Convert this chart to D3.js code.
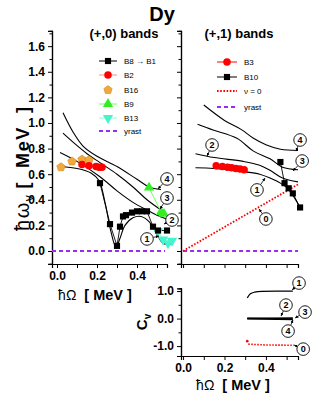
<!DOCTYPE html>
<html><head><meta charset="utf-8">
<script src="https://cdn.jsdelivr.net/npm/d3@7"></script>
<style>body{margin:0;background:#fff}svg{display:block}</style>
</head><body>
<script>
// ---------- DATA ----------
const xTickLabels = ["0.0", "0.2", "0.4"];
const yTickLabels = ["0.0","0.2","0.4","0.6","0.8","1.0","1.2","1.4","1.6"];
const cvTickLabels = ["-1.0","0.0","1.0"];

// (+,0) experimental bands
const b8b1X = [0.215,0.265,0.300,0.315,0.330,0.345,0.375,0.400,0.425,0.450,0.480,0.505,0.550];
const b8b1Y = [0.53,0.21,0.04,0.19,0.27,0.28,0.30,0.31,0.31,0.31,0.19,0.16,0.16];
const b2X = [0.125,0.160,0.195,0.210,0.225];
const b2Y = [0.675,0.665,0.660,0.655,0.655];
const b16X = [0.020,0.075,0.125,0.160];
const b16Y = [0.655,0.700,0.715,0.710];
const b9X = [0.460,0.520,0.535];
const b9Y = [0.495,0.305,0.290];
const b13X = [0.505,0.530,0.555,0.575];
const b13Y = [0.155,0.090,0.060,0.080];

// (+,0) theory curves (labels 1..4)
const thL1 = [[0.02,0.66],[0.10,0.645],[0.17,0.61],[0.21,0.55],[0.24,0.38],[0.27,0.15],[0.295,0.03],[0.315,0.10],[0.34,0.20],[0.38,0.26],[0.42,0.27],[0.46,0.23],[0.50,0.13],[0.53,0.06],[0.56,0.05],[0.58,0.06]];
const thL2 = [[0.015,0.77],[0.10,0.70],[0.215,0.58],[0.30,0.47],[0.38,0.38],[0.45,0.32],[0.50,0.28],[0.55,0.25]];
const thL3 = [[0.03,0.92],[0.08,0.85],[0.15,0.76],[0.215,0.69],[0.30,0.60],[0.38,0.50],[0.45,0.40],[0.52,0.32]];
const thL4 = [[0.03,1.08],[0.08,0.93],[0.13,0.82],[0.20,0.74],[0.30,0.66],[0.40,0.56],[0.46,0.50],[0.52,0.48]];
const yrastL = [[-0.025,0],[0.54,0]];

// (+,1) experimental bands
const b3X = [0.160,0.190,0.215,0.235,0.255,0.275,0.295];
const b3Y = [0.665,0.660,0.655,0.650,0.645,0.640,0.635];
const b10X = [0.470,0.490,0.510,0.530,0.565];
const b10Y = [0.695,0.530,0.490,0.450,0.340];

// (+,1) theory curves
const thR1 = [[0.06,0.65],[0.15,0.645],[0.29,0.62],[0.37,0.60],[0.42,0.57],[0.47,0.53],[0.51,0.48],[0.565,0.34]];
const thR2 = [[0.06,0.76],[0.15,0.73],[0.29,0.70],[0.37,0.67],[0.42,0.63],[0.48,0.57],[0.555,0.54]];
const thR3 = [[0.07,0.99],[0.145,0.945],[0.26,0.88],[0.34,0.78],[0.42,0.72],[0.48,0.655],[0.555,0.635]];
const thR4 = [[0.10,1.14],[0.20,1.02],[0.28,0.95],[0.34,0.88],[0.40,0.83],[0.47,0.795],[0.555,0.785]];
const nu0R = [[0.0,0.0],[0.555,0.52]];
const yrastR = [[0.0,0.0],[0.555,0.0]];

// C_v curves
const cv1 = [[0.31,0.75],[0.325,0.90],[0.345,0.96],[0.38,0.99],[0.45,1.0],[0.53,1.0]];
const cv2 = [[0.31,0.01],[0.53,-0.01]];
const cv3 = [[0.31,0.0],[0.53,0.02]];
const cv4 = [[0.31,-0.01],[0.53,-0.04]];
const cv0 = [[0.315,-0.93],[0.40,-0.96],[0.535,-0.97]];
const cv0Start = [[0.31,-0.82]];

// annotation labels: [text, labelX, labelY, targetX, targetY]
const annL = [["4",0.55,0.5625,0.505,0.484],["3",0.55,0.414,0.515,0.328],["2",0.575,0.242,0.535,0.21],["1",0.45,0.094,0.51,0.117]];
const annR = [["4",0.565,0.867,0.546,0.78],["3",0.575,0.703,0.531,0.625],["2",0.14,0.828,0.116,0.742],["1",0.357,0.477,0.396,0.57],["0",0.40,0.25,0.367,0.328]];
const annCv = [["1",0.56,1.29,0.527,1.04],["2",0.497,0.49,0.473,0.09],["3",0.589,0.236,0.541,0.02],["4",0.507,-0.455,0.531,-0.05],["0",0.58,-1.11,0.536,-0.96]];

const legendL = ["B8 \u2192 B1","B2","B16","B9","B13","yrast"];
const legendR = ["B3","B10","\u03bd = 0","yrast"];

// ---------- DRAW ----------
const W = 322, H = 417;
const FONT = "'Liberation Sans', Arial, sans-serif";
const svg = d3.select("body").append("svg").attr("width", W).attr("height", H)
  .style("font-family", FONT);

const xL = d3.scaleLinear().domain([-0.025, 0.55]).range([52, 167]);
const xR = d3.scaleLinear().domain([-0.01, 0.555]).range([181, 298]);
const yT = d3.scaleLinear().domain([-0.1, 1.72]).range([263.8, 30.8]);
const yC = d3.scaleLinear().domain([-1.36, 1.1]).range([356, 288.3]);

const COL = {red:"#ff0000", pink:"#ff8a8a", orange:"#f2a93b", green:"#33ee22", lgreen:"#77ff66",
             cyan:"#44f5cc", lcyan:"#88ffe0", purple:"#9a2cf0"};

svg.append("defs").append("marker").attr("id","arr").attr("viewBox","0 0 10 10")
  .attr("refX",10).attr("refY",5).attr("markerWidth",4).attr("markerHeight",4).attr("orient","auto")
  .append("path").attr("d","M0,0L10,5L0,10z").attr("fill","#000");

function axes(xs, ys, yMajor, yMinor, showY, xLab, yFmtLabels, y0) {
  const g = svg.append("g");
  const ya = d3.axisLeft(ys).tickValues(yMajor).tickSize(4).tickPadding(3)
     .tickFormat((d,i) => showY ? yFmtLabels[i] : "");
  g.append("g").attr("transform",`translate(${xs.range()[0]},0)`).call(ya);
  const yam = d3.axisLeft(ys).tickValues(yMinor).tickSize(2.5).tickFormat("");
  g.append("g").attr("transform",`translate(${xs.range()[0]},0)`).call(yam);
  const xa = d3.axisBottom(xs).tickValues([0,0.1,0.2,0.3,0.4,0.5]).tickSize(4).tickPadding(3)
     .tickFormat(d => { const i = [0,0.2,0.4].findIndex(v => Math.abs(v-d)<1e-9); return (xLab && i>=0) ? xTickLabels[i] : ""; });
  g.append("g").attr("transform",`translate(0,${y0})`).call(xa);
  g.selectAll(".domain").attr("stroke","#000").attr("stroke-width",1.2);
  g.selectAll(".tick line").attr("stroke","#000");
  g.selectAll("text").attr("font-family",FONT).attr("font-weight","bold").attr("font-size",12).attr("fill","#000");
  return g;
}
const yMaj = d3.range(0, 9).map(i => i*0.2);
const yMin = d3.range(0, 9).map(i => i*0.2+0.1).filter(v => v < 1.72);
axes(xL, yT, yMaj, yMin, true, true, yTickLabels, 264);
axes(xR, yT, yMaj, yMin, false, false, yTickLabels, 264);
axes(xR, yC, [-1,0,1], [-0.5,0.5], true, true, cvTickLabels, 356);

const lineGen = (xs, ys, curve) => d3.line().x(d => xs(d[0])).y(d => ys(d[1])).curve(curve || d3.curveLinear);
const zipXY = (a, b) => a.map((v,i) => [v, b[i]]);

function path(data, xs, ys, stroke, width, dash, curve) {
  svg.append("path").datum(data).attr("d", lineGen(xs, ys, curve)).attr("fill","none")
    .attr("stroke", stroke).attr("stroke-width", width).attr("stroke-dasharray", dash || null);
}
function pentagon(r) {
  const pts = d3.range(5).map(i => { const a = -Math.PI/2 + i*2*Math.PI/5; return [r*Math.cos(a), r*Math.sin(a)]; });
  return "M" + pts.map(p => p.join(",")).join("L") + "Z";
}
function markerPath(kind) {
  if (kind === "square") return d3.symbol(d3.symbolSquare, 38)();
  if (kind === "circle") return d3.symbol(d3.symbolCircle, 44)();
  if (kind === "pent") return pentagon(4.4);
  if (kind === "tri" || kind === "down") return d3.symbol(d3.symbolTriangle, 46)();
}
function markers(data, xs, ys, kind, fill, stroke) {
  svg.append("g").selectAll("path").data(data).enter().append("path")
    .attr("transform", d => `translate(${xs(d[0])},${ys(d[1])})` + (kind==="down" ? " rotate(180)" : ""))
    .attr("d", markerPath(kind))
    .attr("fill", fill).attr("stroke", stroke || "none").attr("stroke-width", 0.6);
}

// yrast lines & nu=0
path(yrastL, xL, yT, COL.purple, 1.8, "4,3");
path(yrastR, xR, yT, COL.purple, 1.8, "4,3");
path(nu0R, xR, yT, COL.red, 1.8, "1.6,1.6");

// theory curves
const cr = d3.curveCatmullRom.alpha(0.5);
[thL1, thL2, thL3, thL4].forEach(c => path(c, xL, yT, "#000", 1.1, null, cr));
[thR1, thR2, thR3, thR4].forEach(c => path(c, xR, yT, "#000", 1.1, null, cr));

// experimental (+,0)
const b8 = zipXY(b8b1X, b8b1Y), b2 = zipXY(b2X, b2Y), b16 = zipXY(b16X, b16Y), b9 = zipXY(b9X, b9Y), b13 = zipXY(b13X, b13Y);
path(b8, xL, yT, "#000", 0.9);
path(b2, xL, yT, COL.pink, 1);
path(b9, xL, yT, COL.lgreen, 1);
path(b13, xL, yT, COL.lcyan, 1);
markers(b16, xL, yT, "pent", COL.orange, "#d08a20");
markers(b2, xL, yT, "circle", COL.red);
markers(b9, xL, yT, "tri", COL.green);
markers(b13, xL, yT, "down", COL.cyan);
markers(b8, xL, yT, "square", "#000");

// experimental (+,1)
const b3 = zipXY(b3X, b3Y), b10 = zipXY(b10X, b10Y);
path(b3, xR, yT, COL.red, 1);
path(b10, xR, yT, "#000", 0.9);
markers(b3, xR, yT, "circle", COL.red);
markers(b10, xR, yT, "square", "#000");

// C_v curves
path(cv1, xR, yC, "#000", 1.2, null, d3.curveMonotoneX);
[cv2, cv3, cv4].forEach(c => path(c, xR, yC, "#000", 1.4));
path(cv0, xR, yC, COL.red, 1.6, "1.5,1.5");
svg.append("g").selectAll("circle").data(cv0Start).enter().append("circle")
  .attr("cx", d => xR(d[0])).attr("cy", d => yC(d[1])).attr("r", 1.3).attr("fill", COL.red);

// annotations
function annotate(list, xs, ys) {
  list.forEach(([t, lx, ly, tx, ty]) => {
    const cx = xs(lx), cy = ys(ly), px = xs(tx), py = ys(ty);
    const dx = px - cx, dy = py - cy, L = Math.hypot(dx, dy), r = 6.3;
    svg.append("line").attr("x1", cx + dx/L*r).attr("y1", cy + dy/L*r).attr("x2", px).attr("y2", py)
      .attr("stroke","#000").attr("stroke-width",0.8).attr("marker-end","url(#arr)");
    svg.append("circle").attr("cx",cx).attr("cy",cy).attr("r",r).attr("fill","#fff").attr("stroke","#000").attr("stroke-width",0.9);
    svg.append("text").attr("x",cx).attr("y",cy+3.2).attr("text-anchor","middle").attr("font-size",9)
      .attr("font-weight","bold").text(t);
  });
}
annotate(annL, xL, yT);
annotate(annR, xR, yT);
annotate(annCv, xR, yC);

// legends
function legend(items, x0, x1, tx, ys, styles) {
  items.forEach((lab, i) => {
    const st = styles[i], y = ys[i], mx = (x0 + x1) / 2;
    if (st.line) svg.append("line").attr("x1",x0).attr("x2",x1).attr("y1",y).attr("y2",y)
      .attr("stroke",st.line).attr("stroke-width",st.w||1).attr("stroke-dasharray",st.dash||null);
    if (st.m) svg.append("path").attr("transform",`translate(${mx},${y})` + (st.m==="down"?" rotate(180)":""))
      .attr("d", markerPath(st.m)).attr("fill", st.fill).attr("stroke", st.stroke||"none").attr("stroke-width",0.6);
    svg.append("text").attr("x",tx).attr("y",y+3).attr("font-size",8).text(lab);
  });
}
legend(legendL, 99, 117, 124, [61,75,90,104,118,131], [
  {line:"#000", m:"square", fill:"#000"},
  {line:COL.pink, m:"circle", fill:COL.red},
  {m:"pent", fill:COL.orange, stroke:"#d08a20"},
  {line:COL.lgreen, m:"tri", fill:COL.green},
  {line:COL.lcyan, m:"down", fill:COL.cyan},
  {line:COL.purple, w:1.8, dash:"4,3"}
]);
legend(legendR, 217, 237, 244, [62,77,91,107], [
  {line:COL.red, m:"circle", fill:COL.red},
  {line:"#000", m:"square", fill:"#000"},
  {line:COL.red, w:1.8, dash:"1.6,1.6"},
  {line:COL.purple, w:1.8, dash:"4,3"}
]);

// titles
svg.append("text").attr("x",162).attr("y",21).attr("text-anchor","middle").attr("font-size",20).attr("font-weight","bold").text("Dy");
svg.append("text").attr("x",124).attr("y",38).attr("text-anchor","middle").attr("font-size",13).attr("font-weight","bold").text("(+,0) bands");
svg.append("text").attr("x",239).attr("y",38).attr("text-anchor","middle").attr("font-size",13).attr("font-weight","bold").text("(+,1) bands");

function xTitle(cx, y) {
  const t = svg.append("text").attr("x",cx).attr("y",y).attr("text-anchor","middle");
  t.append("tspan").attr("font-size",14).text("\u0127\u03a9");
  t.append("tspan").attr("font-size",14.5).attr("font-weight","bold").attr("dx",8).text("[ MeV ]");
}
xTitle(95, 300);
xTitle(233, 390);

// y title left
const yt = svg.append("text").attr("transform","translate(29,231) rotate(-90)").attr("text-anchor","start")
  .attr("textLength",124).attr("lengthAdjust","spacing");
yt.append("tspan").attr("font-size",20).text("\u0127\u03c9");
yt.append("tspan").attr("font-size",12).attr("dy",4).text("v");
yt.append("tspan").attr("font-size",18).attr("font-weight","bold").attr("dy",-4).attr("dx",5).text("[\u00a0\u00a0MeV\u00a0\u00a0]");

// Cv title
const ct = svg.append("text").attr("transform","translate(147,322) rotate(-90)").attr("text-anchor","middle");
ct.append("tspan").attr("font-size",15).attr("font-weight","bold").text("C");
ct.append("tspan").attr("font-size",10).attr("font-weight","bold").attr("dy",4).text("v");
</script>
</body></html>
